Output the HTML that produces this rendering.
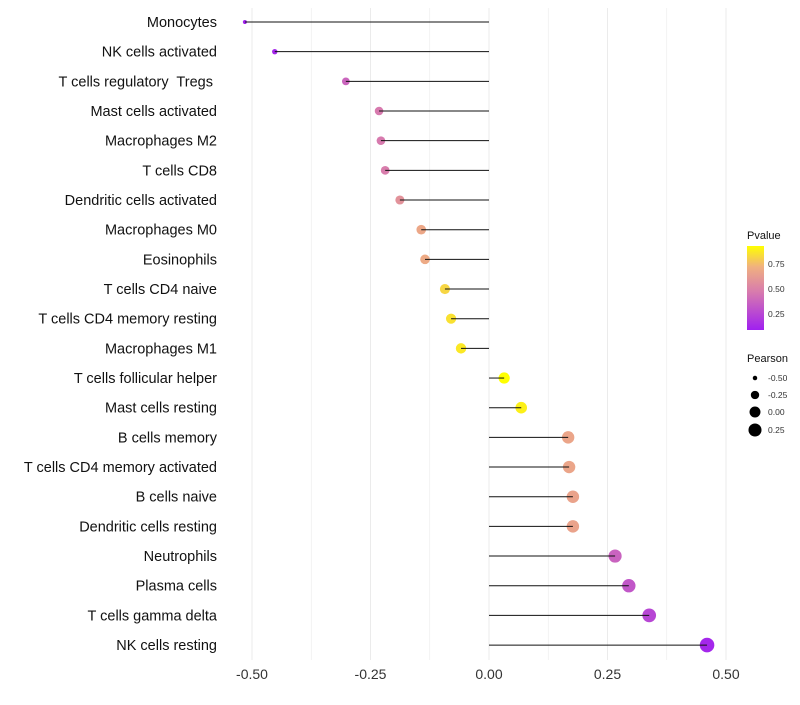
<!DOCTYPE html>
<html><head><meta charset="utf-8"><style>
body{margin:0;background:#fff;font-family:"Liberation Sans",sans-serif}
text{white-space:pre}
</style></head><body>
<svg id="chart" width="800" height="700" xmlns="http://www.w3.org/2000/svg">
<defs><linearGradient id="pg" x1="0" y1="1" x2="0" y2="0">
<stop offset="0" stop-color="#a020f0"/><stop offset="0.45" stop-color="#d77aae"/><stop offset="0.75" stop-color="#f0b080"/><stop offset="1" stop-color="#ffff00"/>
</linearGradient></defs>
<g id="grid"></g><g id="dots"></g><g id="marks"></g><g id="labels"></g><g id="legend"></g>
</svg>
<script>
const cells=["Monocytes","NK cells activated","T cells regulatory  Tregs ","Mast cells activated","Macrophages M2","T cells CD8","Dendritic cells activated","Macrophages M0","Eosinophils","T cells CD4 naive","T cells CD4 memory resting","Macrophages M1","T cells follicular helper","Mast cells resting","B cells memory","T cells CD4 memory activated","B cells naive","Dendritic cells resting","Neutrophils","Plasma cells","T cells gamma delta","NK cells resting"];
const pearson=[-0.515,-0.452,-0.302,-0.232,-0.228,-0.219,-0.188,-0.143,-0.135,-0.093,-0.080,-0.059,0.032,0.068,0.167,0.169,0.177,0.177,0.266,0.295,0.338,0.460];
const pvalue=[0.10,0.12,0.38,0.47,0.47,0.48,0.58,0.68,0.69,0.82,0.85,0.87,0.93,0.89,0.67,0.67,0.66,0.66,0.37,0.32,0.25,0.12];
const xTicks=[-0.5,-0.25,0,0.25,0.5];
const xTickLabels=["-0.50","-0.25","0.00","0.25","0.50"];
const NS="http://www.w3.org/2000/svg";
const x=v=>489+v*474;
const y=i=>22+i*29.67;
const r=v=>Math.sqrt(Math.max(1.5,30+50*v));
function col(p){
  const t=Math.max(0,Math.min(1,(p-0.09)/0.84));
  const st=[[0,[160,32,240]],[0.45,[215,122,174]],[0.75,[240,176,128]],[1,[255,255,0]]];
  for(let k=1;k<st.length;k++){if(t<=st[k][0]){const a=st[k-1],b=st[k],f=(t-a[0])/(b[0]-a[0]);return "rgb("+a[1].map((c,j)=>Math.round(c+(b[1][j]-c)*f)).join(",")+")";}}
  return "rgb(255,255,0)";
}
function mk(tag,at,parent){const e=document.createElementNS(NS,tag);for(const k in at)e.setAttribute(k,at[k]);document.getElementById(parent).appendChild(e);return e;}
for(let v=-0.5;v<=0.501;v+=0.125){const g=mk("line",{x1:x(v),x2:x(v),y1:8,y2:660,stroke:"#ebebeb","stroke-width":Math.abs(v*4-Math.round(v*4))<1e-6?1:0.6},"grid");

}
xTicks.forEach((v,i)=>{const t=mk("text",{x:x(v),y:679,"text-anchor":"middle","font-size":14,fill:"#333"},"labels");t.textContent=xTickLabels[i];

});
cells.forEach((c,i)=>{
  const d=mk("circle",{cx:x(pearson[i]),cy:y(i),r:r(pearson[i]),fill:col(pvalue[i])},"dots");
  
  
  const l=mk("line",{x1:x(0),x2:x(pearson[i]),y1:y(i),y2:y(i),stroke:"#111","stroke-width":1},"marks");
  
  
  const t=mk("text",{x:217,y:y(i)+5,"text-anchor":"end","font-size":14.5,fill:"#111"},"labels");
  t.textContent=c;
  
  
});
let t=mk("text",{x:747,y:239,"font-size":11,fill:"#111"},"legend");t.textContent="Pvalue";


const bar=mk("rect",{x:747,y:246,width:17,height:84,fill:"url(#pg)"},"legend");


[["0.75",264],["0.50",289],["0.25",314]].forEach(a=>{const e=mk("text",{x:768,y:a[1]+3,"font-size":8.5,fill:"#333"},"legend");e.textContent=a[0];

});
t=mk("text",{x:747,y:362,"font-size":11,fill:"#111"},"legend");t.textContent="Pearson";


[[-0.5,"-0.50",378],[-0.25,"-0.25",395],[0,"0.00",412],[0.25,"0.25",430]].forEach(a=>{
  const c=mk("circle",{cx:755,cy:a[2],r:r(a[0]),fill:"#000"},"legend");
  
  
  const e=mk("text",{x:768,y:a[2]+3,"font-size":8.5,fill:"#333"},"legend");e.textContent=a[1];
  
  
});
</script>
</body></html>
